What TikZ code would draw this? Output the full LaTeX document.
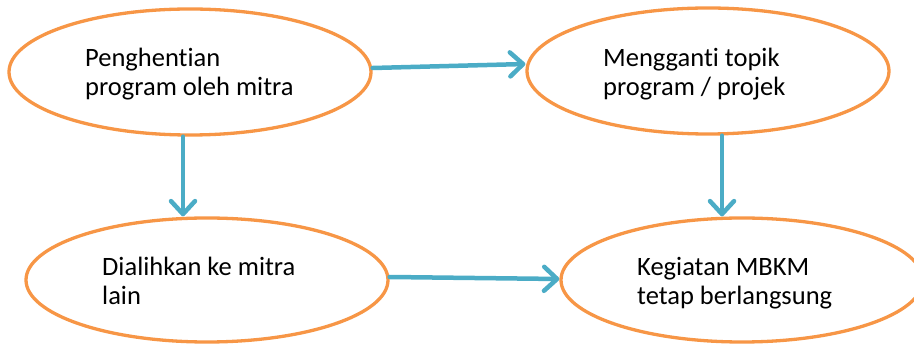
\documentclass[tikz,border=0pt]{standalone}
\usepackage{fontspec}
\setmainfont{Carlito}[Ligatures=NoCommon]
\usetikzlibrary{shapes.geometric,arrows.meta}
\definecolor{eorange}{HTML}{F79646}
\definecolor{ablue}{HTML}{4BACC6}
\tikzset{
  oval/.style={ellipse, draw=eorange, line width=3.3pt, fill=white, minimum width=362pt, minimum height=126pt, inner sep=0pt},
  lbl/.style={anchor=base west, inner sep=0pt, font=\fontsize{26.5}{29}\selectfont},
  flow/.style={draw=ablue, line width=4.5pt, line cap=round, -{Straight Barb[length=13pt, width=24pt, round]}},
}
\begin{document}
\begin{tikzpicture}[x=1pt, y=-1pt]
\useasboundingbox (0,0) rectangle (914,347);
\node[oval] (e1) at (190,72) {};
\node[oval] (e2) at (708,71) {};
\node[oval, minimum height=124pt] (e3) at (207,280) {};
\node[oval, minimum height=124pt] (e4) at (742,280) {};
\node[lbl] (t1) at (85,67) {\begin{tabular}[t]{@{}l@{}}Penghentian\\program oleh mitra\end{tabular}};
\node[lbl] (t2) at (603,67) {\begin{tabular}[t]{@{}l@{}}Mengganti topik\\program / projek\end{tabular}};
\node[lbl] (t3) at (102,276) {\begin{tabular}[t]{@{}l@{}}Dialihkan ke mitra\\lain\end{tabular}};
\node[lbl] (t4) at (637,276) {\begin{tabular}[t]{@{}l@{}}Kegiatan MBKM\\tetap berlangsung\end{tabular}};
\coordinate (a1) at ([yshift=4pt]e1.east);
\coordinate (a2) at ([xshift=-7pt]e1.south);
\coordinate (a3) at ([xshift=14pt]e2.south);
\coordinate (a4) at ([yshift=3pt]e3.east);
\draw[flow] (a1) -- ([yshift=7pt]e2.west);
\draw[flow] (a2) -- (a2 |- e3.north);
\draw[flow] (a3) -- (a3 |- e4.north);
\draw[flow] (a4) -- ([yshift=1pt]e4.west);
\end{tikzpicture}
\end{document}
